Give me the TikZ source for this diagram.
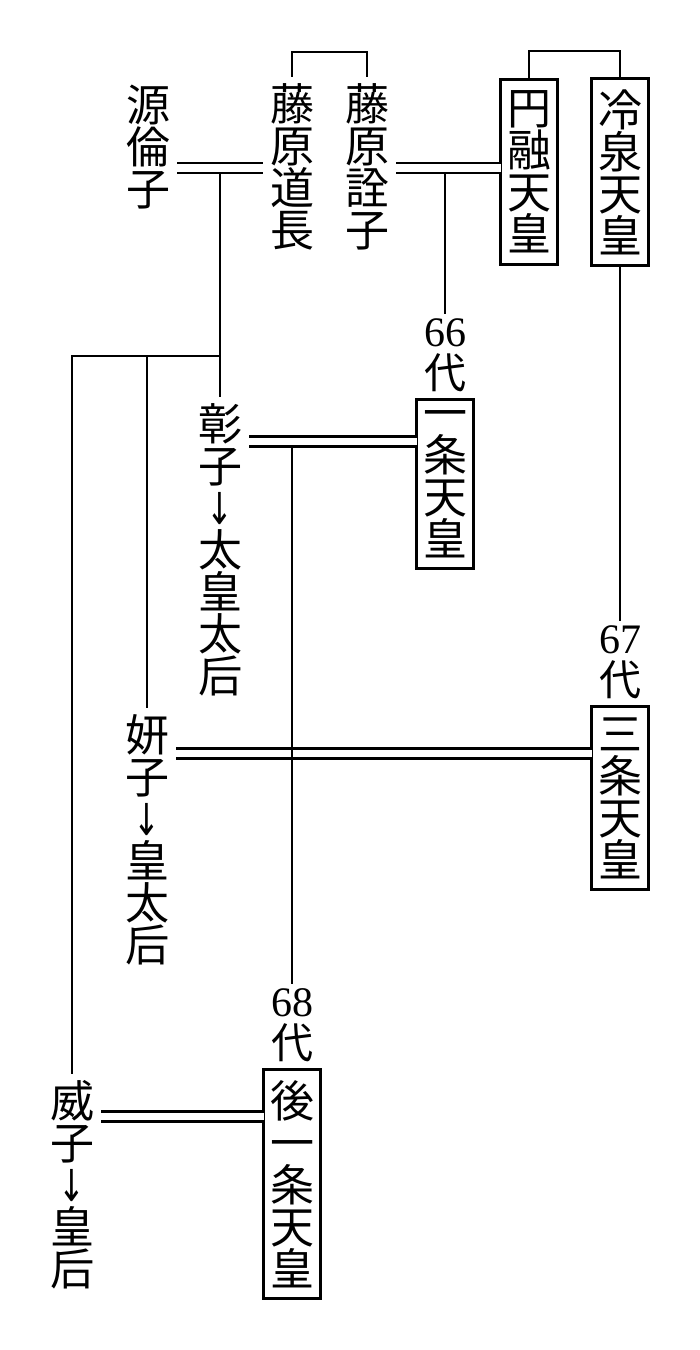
\documentclass[tikz,border=0pt]{standalone}
\usepackage{fontspec}
\usepackage{graphicx}
\setmainfont{Liberation Serif}
\newfontfamily\cjk{Noto Sans CJK JP}
\newfontfamily\arrowfont{DejaVu Sans}
\usetikzlibrary{positioning}
\newcommand{\darrow}{\smash{\raisebox{0pt}{\arrowfont\fontsize{40}{42}\selectfont\scalebox{0.8}[1.1]{↓}}}}
\tikzstyle{person} = [font=\cjk\fontsize{44}{42}\selectfont,align=center,inner sep=0pt,outer sep=7pt]
\tikzstyle{tenno} = [person,draw,line width=2.6pt,inner xsep=6.5pt,inner ysep=11pt,outer sep=0pt]
\tikzstyle{gen} = [font=\fontsize{42}{42}\selectfont,align=center,inner sep=0pt,outer sep=5pt]
\tikzstyle{marriage} = [double,double distance=7.8pt,line width=2.2pt]

\begin{document}
\begin{tikzpicture}[x=1pt,y=-1pt,line width=2.2pt]
    \useasboundingbox (0,0) rectangle (700,1350);

      % parents
      \node[person] (rinshi)    at (148,147) {源\\倫\\子};
      \node[person] (michinaga) at (292,167) {藤\\原\\道\\長};
      \node[person] (senshi)    at (367,167) {藤\\原\\詮\\子};
      \node[tenno]  (enyu)      at (529,172) {円\\融\\天\\皇};
      \node[tenno]  (reizei)    at (620,172) {冷\\泉\\天\\皇};

      % emperors
      \node[tenno] (ichijo)   at (445,484)  {一\\条\\天\\皇};
      \node[tenno] (sanjo)    at (620,798)  {三\\条\\天\\皇};
      \node[tenno] (goichijo) at (292,1184) {後\\一\\条\\天\\皇};
      \node[gen] (gen66) [above=2pt of ichijo]   {66\\{\cjk 代}};
      \node[gen] (gen67) [above=2pt of sanjo]    {67\\{\cjk 代}};
      \node[gen] (gen68) [above=2pt of goichijo] {68\\{\cjk 代}};

      % daughters
      \node[person] (shoshi) at (220,550)  {彰\\子\\\darrow\\太\\皇\\太\\后};
      \node[person] (kenshi) at (147,840)  {妍\\子\\\darrow\\皇\\太\\后};
      \node[person] (ishi)   at (72,1185)  {威\\子\\\darrow\\皇\\后};

      % siblings
      \coordinate (sib1) at (330,52);
      \coordinate (sib2) at (575,51);
      \draw (michinaga.north) |- (sib1) -| (senshi.north);
      \draw (enyu.north) |- (sib2) -| (reizei.north);

      % marriages
      \coordinate (m1) at (220,168);
      \coordinate (m2) at (445,168);
      \coordinate (m3) at (292,441.5);
      \coordinate (m4) at (380,753.5);
      \coordinate (m5) at (180,1116.5);
      \draw[marriage] (rinshi.east |- m1) -- (michinaga.west |- m1);
      \draw[marriage] (senshi.east |- m2) -- (enyu.west |- m2);
      \draw[marriage] (shoshi.east |- m3) -- (ichijo.west |- m3);
      \draw[marriage] (kenshi.east |- m4) -- (sanjo.west |- m4);
      \draw[marriage] (ishi.east |- m5) -- (goichijo.west |- m5);

      % children
      \coordinate (c1) at (220,173);
      \coordinate (c2) at (445,173);
      \coordinate (c3) at (292,446);
      \coordinate (br) at (220,356);
      \draw (c1) -- (shoshi.north);
      \draw (br) -| (ishi.north);
      \draw (kenshi.north |- br) -- (kenshi.north);
      \draw (c2) -- (gen66.north);
      \draw (reizei.south) -- (gen67.north);
      \draw (c3) -- (gen68.north);
    \end{tikzpicture}
\end{document}
